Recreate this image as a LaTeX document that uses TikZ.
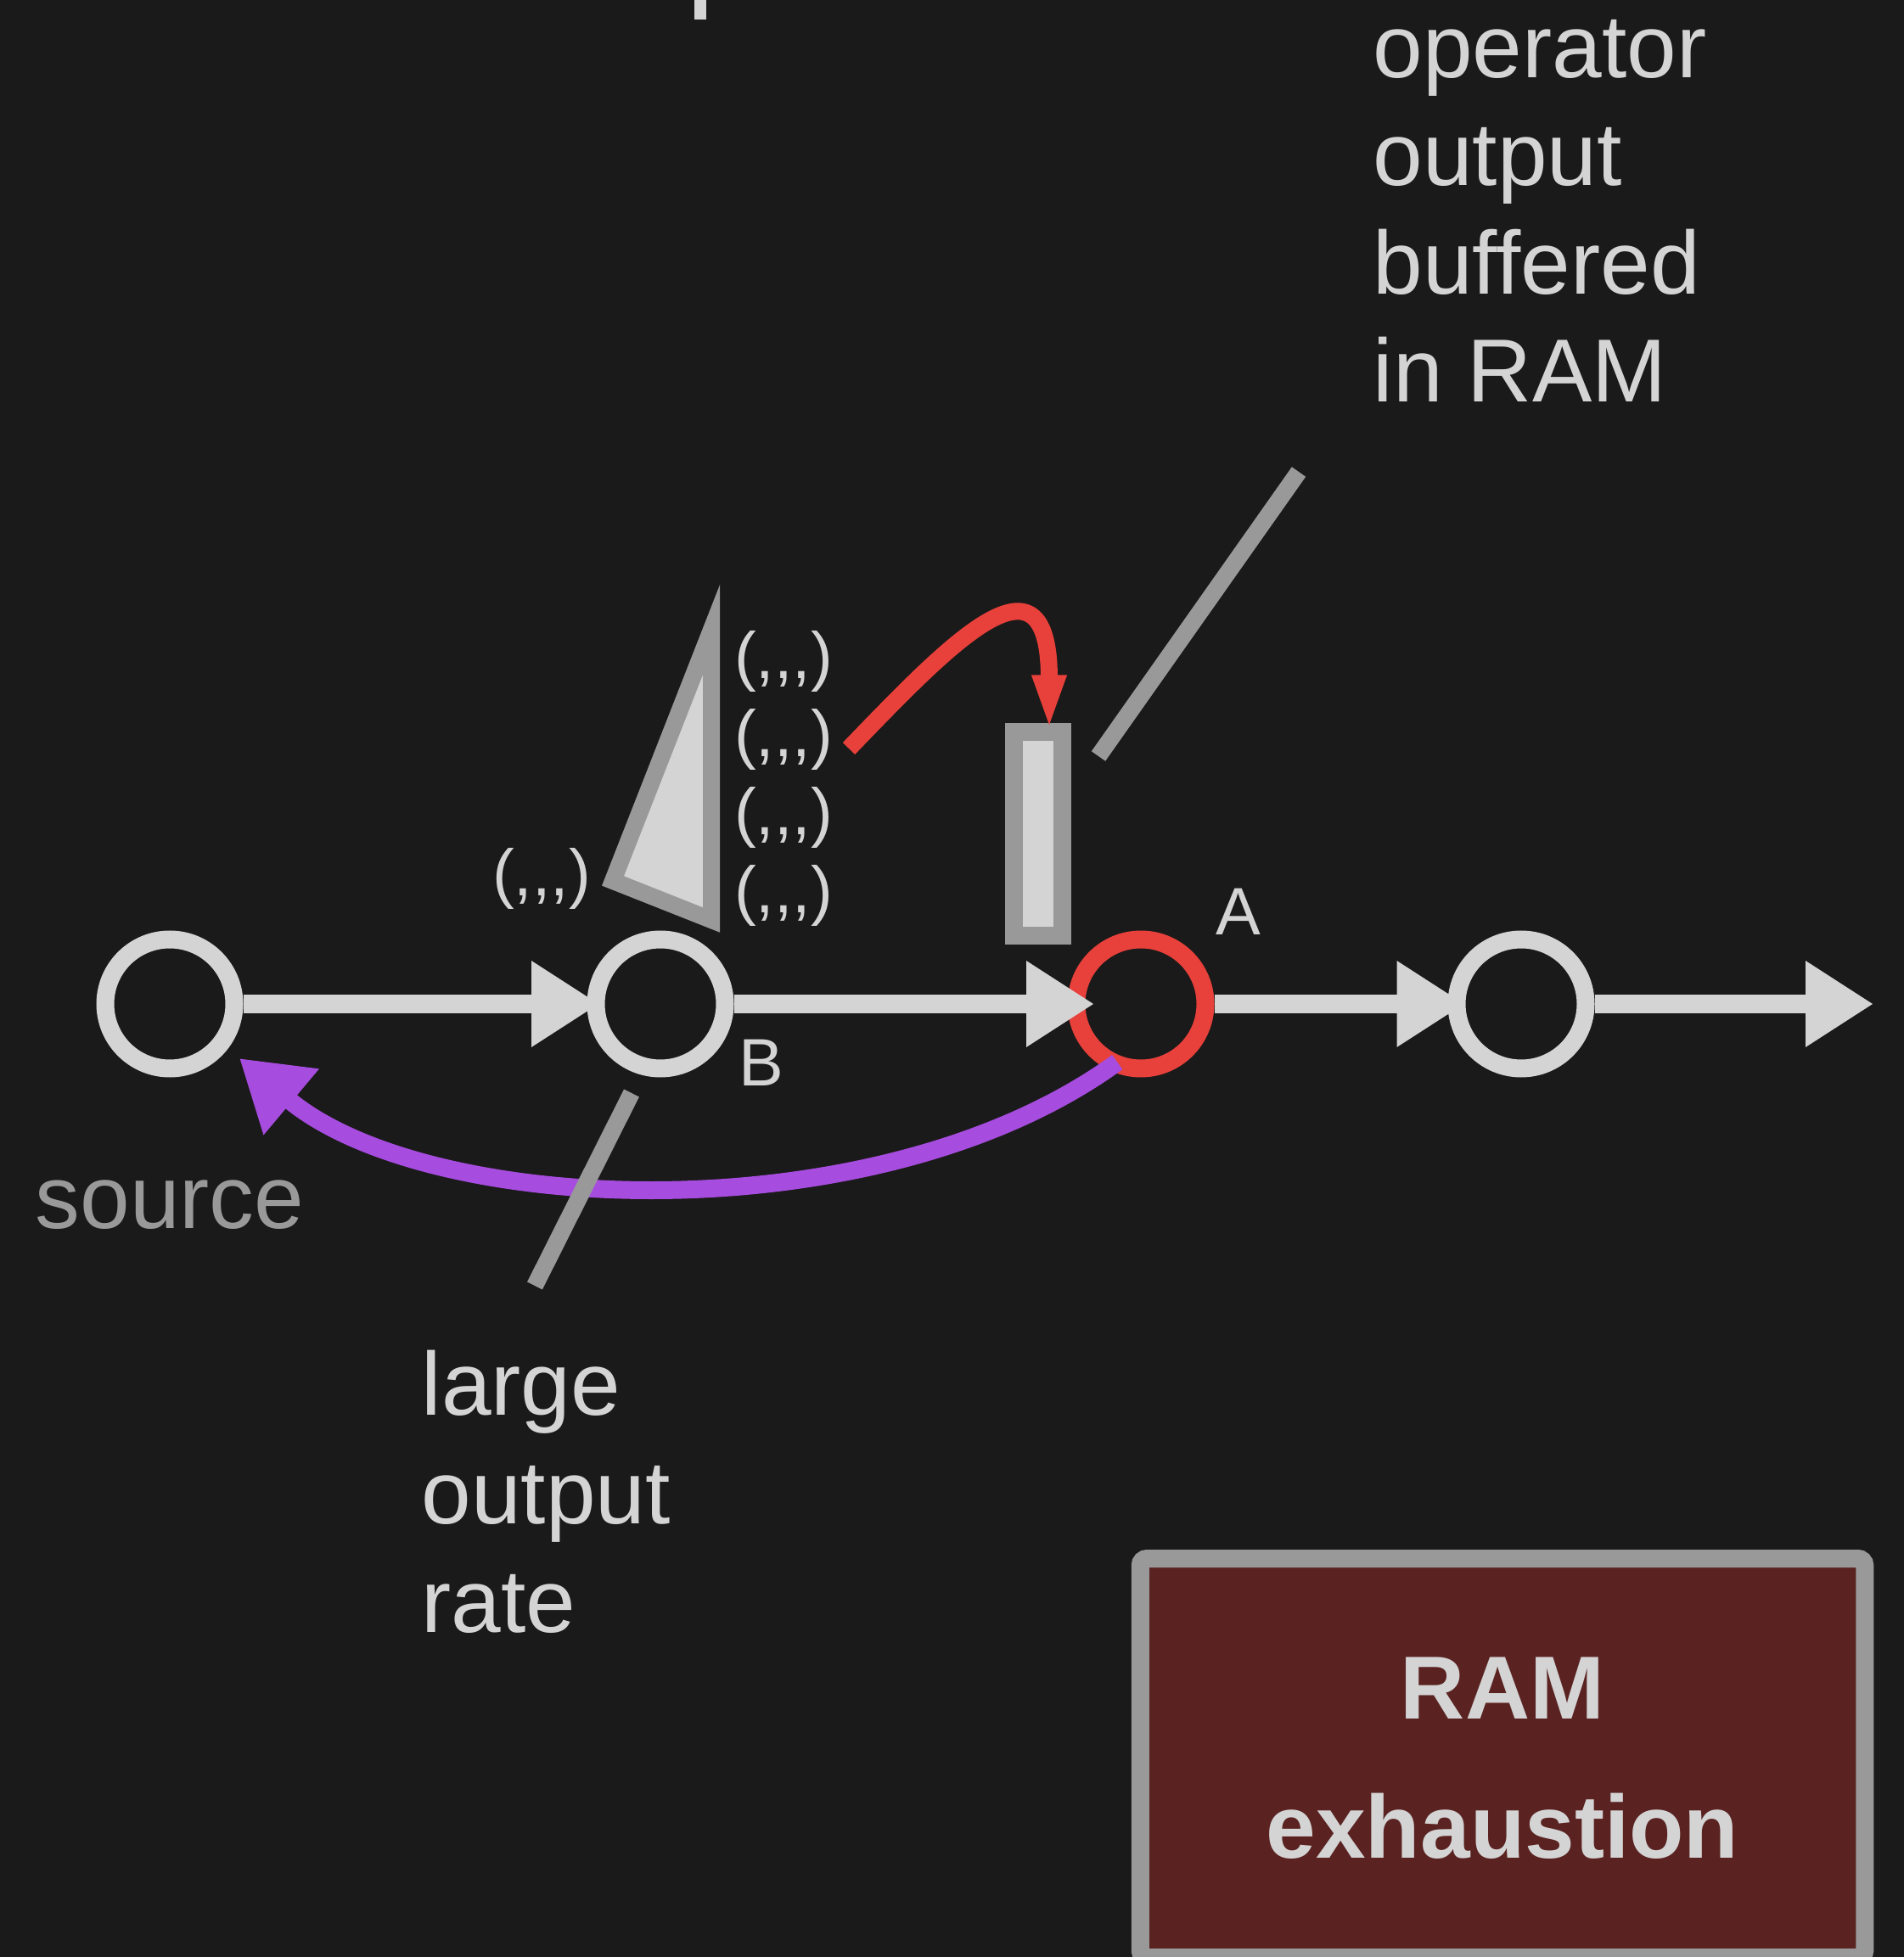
\documentclass[tikz,border=0pt]{standalone}
\usepackage{fontspec}
\setmainfont{Liberation Sans}
\usetikzlibrary{
    positioning,
    arrows.meta
}
\definecolor{bgdark}{HTML}{1A1A1A}
\definecolor{fg}{HTML}{D4D4D4}
\definecolor{midgray}{HTML}{999999}
\definecolor{hotred}{HTML}{E8403A}
\definecolor{backpurple}{HTML}{A64CDE}
\definecolor{ramfill}{HTML}{5A2322}
\newcommand{\tpl}{(,\kern0pt,\kern0pt,)}
\tikzset{
    >={Triangle[length=0.8cm, width=0.96cm]},
    op/.style={
        circle,
        draw=fg,
        line width=0.21cm,
        minimum size=1.52cm,
        inner sep=0pt
    },
    flow/.style={->, color=fg, line width=0.21cm},
    tuple/.style={text=fg, inner sep=0pt, font=\fontsize{22}{26}\selectfont},
    tag/.style={text=fg, inner sep=0pt, font=\fontsize{22.5}{27}\selectfont},
    note/.style={text=fg, inner sep=0pt, align=left, font=\fontsize{30}{36.3}\selectfont},
    callout/.style={draw=midgray, line width=0.2cm}
}

\begin{document}
\begin{tikzpicture}[
    on grid,
    auto
]

    % Page
    \useasboundingbox (0,-11.23) rectangle (22.43,11.83);
    \fill[bgdark] (0,-11.23) rectangle (22.43,11.83);
    \fill[fg] (8.18,11.60) rectangle (8.32,11.83);

    % Operators
    \node[op] (n1) at (2.00,0) {};
    \node[op] (n2) [right=5.78cm of n1] {};
    \node[op, draw=hotred] (n3) [right=5.66cm of n2] {};
    \node[op] (n4) [right=4.48cm of n3] {};
    \coordinate[right=4.15cm of n4] (out);

    \node[tag] (la) [above right=1.085cm and 1.15cm of n3] {A};
    \node[tag] (lb) [below right=0.695cm and 1.19cm of n2] {B};
    \node[text=midgray, inner sep=0pt, font=\fontsize{30}{36}\selectfont]
        (src) [below=2.37cm of n1] {source};

    % Output of B
    \draw[draw=midgray, fill=fg, line width=0.2cm, line join=miter]
        (8.38,4.41) -- (7.22,1.45) -- (8.38,0.99) -- cycle;
    \node[tuple] (t0) at (6.38,1.48) {\tpl};
    \node[tuple] (t1) at (9.23,4.04) {\tpl};
    \node[tuple] (t2) [below=0.92cm of t1] {\tpl};
    \node[tuple] (t3) [below=0.92cm of t2] {\tpl};
    \node[tuple] (t4) [below=0.92cm of t3] {\tpl};

    % Buffer of A
    \node[rectangle, draw=midgray, fill=fg, line width=0.21cm,
        minimum width=0.565cm, minimum height=2.40cm, inner sep=0pt]
        (buf) at (12.23,2.00) {};

    % Flow
    \path[flow]
        (n1) edge[shorten >=-0.145cm] (n2)
        (n2) edge[shorten >=-0.315cm] (n3)
        (n3) edge[shorten >=-0.2cm] (n4)
        (n4) edge (out);

    \coordinate (rs) at (10.00,3.01);
    \draw[-{Triangle[length=0.65cm, width=0.36cm]}, color=hotred,
        line width=0.2cm, shorten >=-0.08cm]
        (rs) to[out=46, in=90, out distance=1.7cm, in distance=2.18cm]
        ([xshift=0.13cm]buf.north);

    \draw[->, color=backpurple, line width=0.21cm]
        ([shift={(248:0.74)}]n3.center)
        to[out=216, in=-40, out distance=3.5cm, in distance=2.9cm]
        ([shift={(-38:1.04)}]n1.center);

    % Notes
    \node[note, anchor=base west] (buffered) at (16.17,7.09)
        {operator\\output\\buffered\\in RAM};
    \coordinate (c1a) at (15.30,6.27);
    \coordinate (c1b) at (12.94,2.92);
    \draw[callout] (c1a) -- (c1b);

    \node[note, anchor=base west] (rate) at (4.96,-7.40)
        {large\\output\\rate};
    \coordinate (c2a) at (7.44,-1.05);
    \coordinate (c2b) at (6.30,-3.32);
    \draw[callout] (c2a) -- (c2b);

    \node[rectangle, rounded corners=0.08cm, draw=midgray, fill=ramfill,
        line width=0.21cm, minimum width=8.535cm, minimum height=4.70cm,
        text=fg, align=center, font=\fontsize{30}{46.7}\selectfont\bfseries]
        (ram) at (17.70,-8.885) {RAM\\exhaustion};

\end{tikzpicture}
\end{document}
